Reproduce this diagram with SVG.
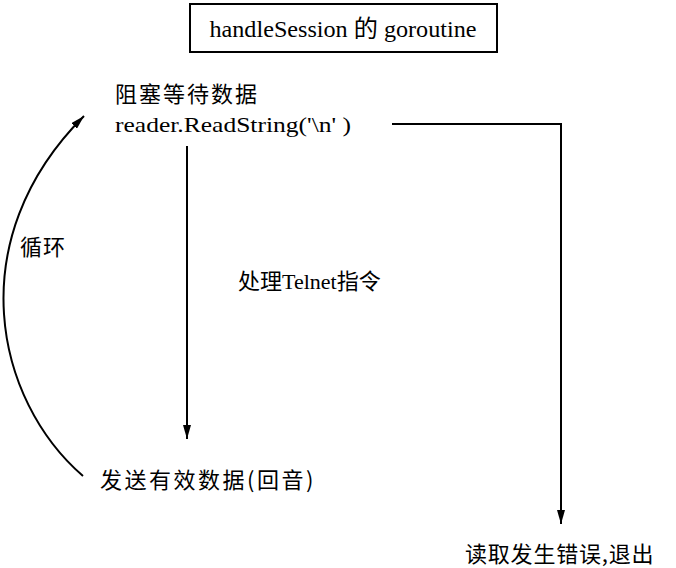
<svg xmlns="http://www.w3.org/2000/svg" width="676" height="568" viewBox="0 0 676 568">
<defs>
<marker id="ah" viewBox="0 0 14 8" refX="14" refY="4" markerWidth="14" markerHeight="8" orient="auto" markerUnits="userSpaceOnUse">
<path d="M0,0 L14,4 L0,8 Z" fill="#000"/>
</marker>
<style>
.serif{font-family:"Liberation Serif","Noto Sans CJK SC",serif;font-size:22px;fill:#000}
.cjk{font-family:"Noto Sans CJK SC","Liberation Sans",sans-serif;font-size:22px;fill:#000}
.ln{fill:none;stroke:#000;stroke-width:2}
</style>
</defs>
<rect width="676" height="568" fill="#fff"/>
<g id="title">
<rect x="190" y="4" width="307" height="48" fill="none" stroke="#000" stroke-width="2"/>
<text class="serif" x="343" y="37" text-anchor="middle" textLength="267" lengthAdjust="spacingAndGlyphs" style="font-size:24px">handleSession 的 goroutine</text>
</g>
<g id="read">
<text class="cjk" x="115" y="102" letter-spacing="2">阻塞等待数据</text>
<text class="serif" x="115" y="132" textLength="236" lengthAdjust="spacingAndGlyphs">reader.ReadString('\n' )</text>
</g>
<g id="process">
<text class="cjk" x="238" y="289">处理<tspan style="font-family:'Liberation Serif',serif;font-size:22px">Telnet</tspan>指令</text>
</g>
<g id="send">
<text class="cjk" x="100" y="488" letter-spacing="2.5">发送有效数据(回音)</text>
</g>
<g id="exit">
<text class="cjk" x="465" y="562" letter-spacing="0.8">读取发生错误,退出</text>
</g>
<g id="loop">
<text class="cjk" x="20" y="255" letter-spacing="1">循环</text>
</g>
<g id="connectors">
<line class="ln" x1="187" y1="146" x2="187" y2="439" marker-end="url(#ah)"/>
<polyline class="ln" points="392,124 561,124 561,524" marker-end="url(#ah)"/>
<path class="ln" d="M83,476 C-5,400 -40,240 84,116" marker-end="url(#ah)"/>
</g>
</svg>
